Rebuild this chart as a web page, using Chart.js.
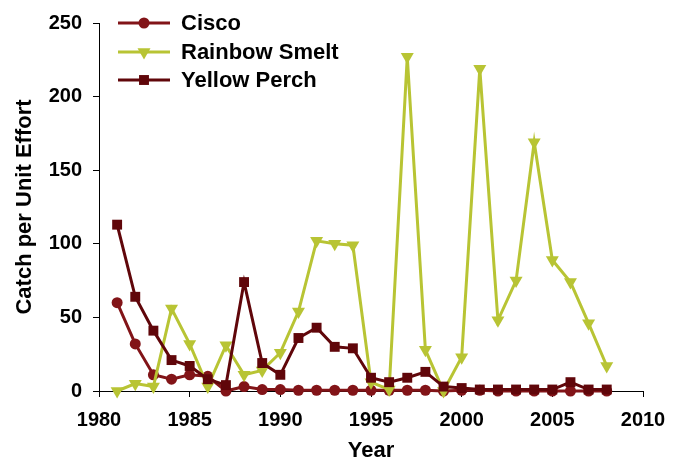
<!DOCTYPE html>
<html>
<head>
<meta charset="utf-8">
<script src="https://cdn.jsdelivr.net/npm/chart.js@4/dist/chart.umd.min.js"></script>
<style>
  body { margin: 0; background: #fff; }
  #wrap { width: 681px; height: 460px; position: relative; }
</style>
</head>
<body>
<div id="wrap"><canvas id="catchChart"></canvas></div>
<script>
// Survey years and catch per unit effort by species
const years = [1981, 1982, 1983, 1984, 1985, 1986, 1987, 1988, 1989, 1990,
               1991, 1992, 1993, 1994, 1995, 1996, 1997, 1998, 1999, 2000,
               2001, 2002, 2003, 2004, 2005, 2006, 2007, 2008];
const cisco = [60, 32, 11, 8, 11, 10, 0, 3, 1, 1,
               0.5, 0.5, 0.5, 0.5, 0.5, 0.5, 0.5, 0.5, 0, 0.5,
               0.5, 0, 0, 0, 0, 0, 0, 0];
const smelt = [0, 5, 3, 56, 32, 3, 31, 11, 14, 26,
               54, 102, 100, 99, 6, 1, 227, 28, 0, 23,
               219, 48, 75, 169, 89, 74, 46, 17];
const perch = [113, 64, 41, 21, 17, 8, 4, 74, 19, 11,
               36, 43, 30, 29, 9, 6, 9, 13, 3, 2,
               1, 1, 1, 1, 1, 6, 1, 1];
const xTicks = [1980, 1985, 1990, 1995, 2000, 2005, 2010];
const yTicks = [0, 50, 100, 150, 200, 250];

const FONT = '"Liberation Sans", Arial, sans-serif';

function toPoints(values) {
    return years.map((yr, i) => ({ x: yr, y: values[i] }));
}

// Legend drawn inside the plot area, top left
const insideLegend = {
    id: 'insideLegend',
    afterDraw(chart) {
        const ctx = chart.ctx;
        const x0 = 118, x1 = 170, textX = 181;
        const rows = [23, 52, 80];
        chart.data.datasets.forEach((ds, i) => {
            const y = rows[i];
            const mx = (x0 + x1) / 2;
            ctx.save();
            ctx.strokeStyle = ds.borderColor;
            ctx.lineWidth = ds.borderWidth;
            ctx.beginPath();
            ctx.moveTo(x0, y);
            ctx.lineTo(x1, y);
            ctx.stroke();
            ctx.fillStyle = ds.pointBackgroundColor;
            const r = ds.pointRadius;
            ctx.beginPath();
            if (ds.pointStyle === 'circle') {
                ctx.arc(mx, y, r, 0, Math.PI * 2);
            } else if (ds.pointStyle === 'rect') {
                const s = r / Math.SQRT2;
                ctx.rect(mx - s, y - s, 2 * s, 2 * s);
            } else {
                // downward triangle
                const h = r * Math.sqrt(3) / 2;
                ctx.moveTo(mx - h, y - r / 2);
                ctx.lineTo(mx + h, y - r / 2);
                ctx.lineTo(mx, y + r);
                ctx.closePath();
            }
            ctx.fill();
            ctx.fillStyle = '#000';
            ctx.font = 'bold 22px ' + FONT;
            ctx.textBaseline = 'middle';
            ctx.textAlign = 'left';
            ctx.fillText(ds.label, textX, y + 1);
            ctx.restore();
        });
    }
};

const ciscoColor = 'rgb(130, 20, 24)';
const smeltColor = 'rgb(184, 196, 52)';
const perchColor = 'rgb(96, 6, 10)';

new Chart(document.getElementById('catchChart'), {
    type: 'line',
    data: {
        datasets: [
            {
                label: 'Cisco',
                data: toPoints(cisco),
                borderColor: ciscoColor,
                backgroundColor: ciscoColor,
                pointBackgroundColor: ciscoColor,
                pointBorderColor: ciscoColor,
                pointStyle: 'circle',
                pointRadius: 5.5,
                pointBorderWidth: 0,
                borderWidth: 3,
                order: 3,
                clip: false
            },
            {
                label: 'Rainbow Smelt',
                data: toPoints(smelt),
                borderColor: smeltColor,
                backgroundColor: smeltColor,
                pointBackgroundColor: smeltColor,
                pointBorderColor: smeltColor,
                pointStyle: 'triangle',
                rotation: 180,
                pointRadius: 7.5,
                pointBorderWidth: 0,
                borderWidth: 3,
                order: 2,
                clip: false
            },
            {
                label: 'Yellow Perch',
                data: toPoints(perch),
                borderColor: perchColor,
                backgroundColor: perchColor,
                pointBackgroundColor: perchColor,
                pointBorderColor: perchColor,
                pointStyle: 'rect',
                pointRadius: 7,
                pointBorderWidth: 0,
                borderWidth: 3,
                order: 1,
                clip: false
            }
        ]
    },
    options: {
        responsive: true,
        maintainAspectRatio: false,
        animation: false,
        layout: {
            padding: { left: 0, right: 38, top: 22, bottom: 0 }
        },
        plugins: {
            legend: { display: false },
            tooltip: { enabled: false }
        },
        scales: {
            x: {
                type: 'linear',
                min: 1980,
                max: 2010,
                afterBuildTicks: axis => { axis.ticks = xTicks.map(v => ({ value: v })); },
                afterFit: axis => { axis.height = 69; },
                grid: { drawOnChartArea: false, color: '#000', tickLength: 6 },
                border: { color: '#000', width: 1 },
                ticks: {
                    color: '#000',
                    padding: 11,
                    maxRotation: 0,
                    callback: v => String(v),
                    font: { family: FONT, size: 20, weight: 'bold' }
                },
                title: {
                    display: true,
                    text: 'Year',
                    color: '#000',
                    font: { family: FONT, size: 22, weight: 'bold', lineHeight: 0.85 },
                    padding: { top: 0, bottom: 0 }
                }
            },
            y: {
                min: 0,
                max: 250,
                afterBuildTicks: axis => { axis.ticks = yTicks.map(v => ({ value: v })); },
                afterFit: axis => { axis.width = 99; },
                grid: { drawOnChartArea: false, color: '#000', tickLength: 6 },
                border: { color: '#000', width: 1 },
                ticks: {
                    color: '#000',
                    padding: 11,
                    font: { family: FONT, size: 20, weight: 'bold' }
                },
                title: {
                    display: true,
                    text: 'Catch per Unit Effort',
                    color: '#000',
                    font: { family: FONT, size: 22, weight: 'bold', lineHeight: 1 },
                    padding: { top: 14, bottom: 0 }
                }
            }
        }
    },
    plugins: [insideLegend]
});
</script>
</body>
</html>
